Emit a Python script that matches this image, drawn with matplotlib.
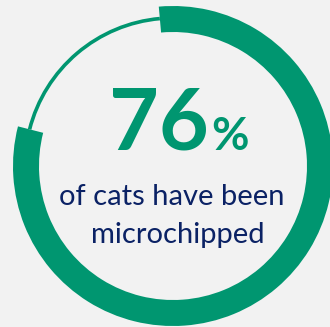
import matplotlib
matplotlib.use("Agg")
import matplotlib.pyplot as plt
from matplotlib.patches import Wedge, Arc

# values
headline = 76            # printed share
filled_share = 80.4      # share of the ring drawn thick (as drawn in the picture)
start_offset = 5.1       # ring starts this many degrees before 12 o'clock
caption = ["of cats have been", "microchipped"]

green = "#009670"
navy = "#0b2265"
bg = "#f2f2f2"

W, H = 330, 327
fig = plt.figure(figsize=(W / 100, H / 100), dpi=100, facecolor=bg)
ax = fig.add_axes([0, 0, 1, 1])
ax.set_xlim(0, W)
ax.set_ylim(H, 0)
ax.set_facecolor(bg)
ax.axis("off")

cx, cy = 173, 166
r_out, ring_w = 160, 26

# y axis is flipped, so angles run clockwise on screen
start = -90 - start_offset
end = start + filled_share / 100 * 360
ax.add_patch(Wedge((cx, cy), r_out, start, end, width=ring_w,
                   facecolor=green, edgecolor="none"))
r_mid = r_out - ring_w / 2 + 1
ax.add_patch(Arc((cx, cy), 2 * r_mid, 2 * r_mid, theta1=end, theta2=start + 360,
                 color=green, linewidth=2.6))

ax.text(209, 150, f"{headline}", ha="right", va="baseline", color=green,
        fontsize=62, fontweight="bold", family="Lato")
ax.text(211, 150, "%", ha="left", va="baseline", color=green,
        fontsize=33, fontweight="bold", family="Lato")

ax.text(172, 205, caption[0], ha="center", va="baseline", color=navy,
        fontsize=21, family="Lato")
ax.text(178, 243, caption[1], ha="center", va="baseline", color=navy,
        fontsize=21, family="Lato")

fig.savefig("out.png", dpi=100, facecolor=bg)
